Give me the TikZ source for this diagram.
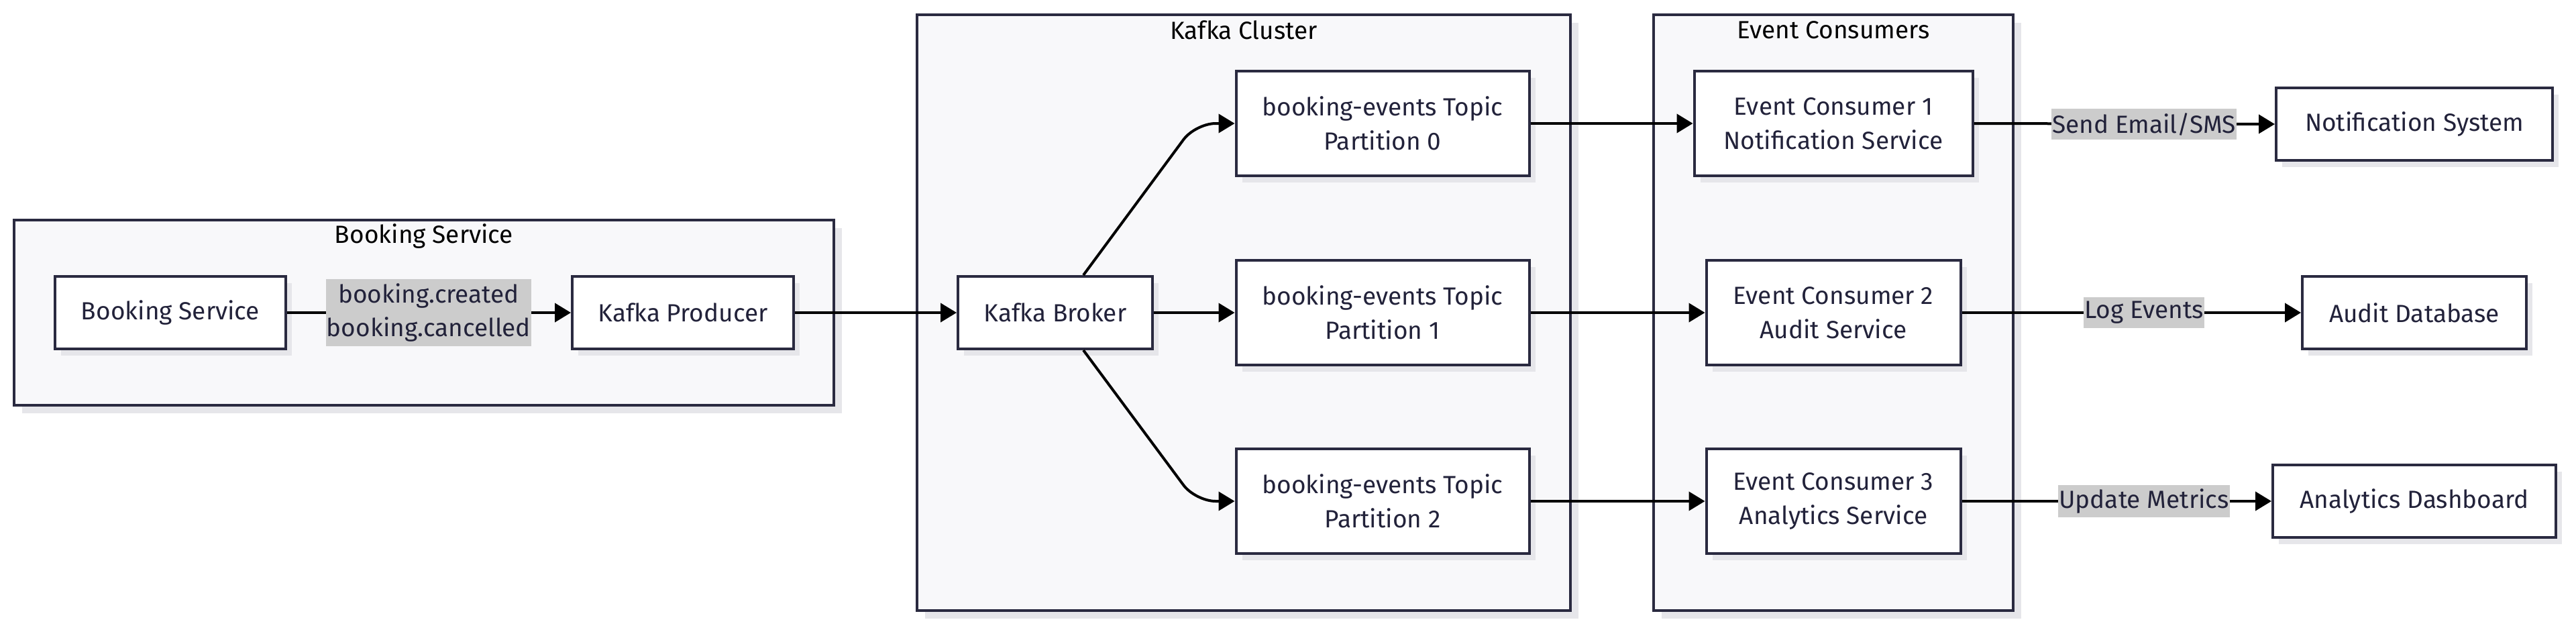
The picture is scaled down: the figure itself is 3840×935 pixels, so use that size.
\documentclass[tikz,border=0pt]{standalone}
\usepackage{fontspec}
\setmainfont{Fira Sans}
\usetikzlibrary{arrows.meta,shadows}
\definecolor{bord}{HTML}{2A2A40}
\definecolor{txt}{HTML}{22223A}
\definecolor{clfill}{HTML}{F8F8FA}
\definecolor{shd}{HTML}{E6E6EA}
\definecolor{lblgray}{HTML}{CCCCCC}
\newcommand{\nfont}{\fontsize{37}{51}\selectfont}
\tikzset{
  box/.style={draw=bord, line width=4pt, fill=white, rectangle, minimum height=108pt,
    align=center, inner sep=0pt, font=\nfont, text=txt,
    drop shadow={shadow xshift=9pt, shadow yshift=-10pt, fill=shd, opacity=1}},
  tallbox/.style={box, minimum height=156pt},
  cluster/.style={draw=bord, line width=4pt, fill=clfill,
    drop shadow={shadow xshift=12pt, shadow yshift=-12pt, fill=shd, opacity=1}},
  ctitle/.style={font=\nfont, text=black, inner sep=0pt},
  lbl/.style={fill=lblgray, font=\nfont, text=txt, align=center, inner xsep=1pt, inner ysep=6pt},
  arr/.style={draw=black, line width=4pt, -{Triangle[length=24pt,width=28pt]}}
}
\begin{document}
\begin{tikzpicture}[x=1pt,y=-1pt]
\useasboundingbox (0,0) rectangle (3840,935);
% clusters
\draw[cluster] (21,328) rectangle (1243,604);
\node[ctitle] (tbs) at (632,352) {Booking Service};
\draw[cluster] (1367,22) rectangle (2341,910);
\node[ctitle] (tkc) at (1854,45) {Kafka Cluster};
\draw[cluster] (2465,22) rectangle (3001,910);
\node[ctitle] (tec) at (2733,45) {Event Consumers};
% nodes
\node[box, minimum width=344pt] (bs) at (254,466) {Booking Service};
\node[box, minimum width=330pt] (kp) at (1018,466) {Kafka Producer};
\node[box, minimum width=290pt] (broker) at (1573,466) {Kafka Broker};
\node[tallbox, minimum width=437pt] (p0) at (2061,184) {booking-events Topic\\Partition 0};
\node[tallbox, minimum width=437pt] (p1) at (2061,466) {booking-events Topic\\Partition 1};
\node[tallbox, minimum width=437pt] (p2) at (2061,747) {booking-events Topic\\Partition 2};
\node[tallbox, minimum width=415pt] (ec1) at (2733,184) {Event Consumer 1\\Notification Service};
\node[tallbox, minimum width=379pt] (ec2) at (2733,466) {Event Consumer 2\\Audit Service};
\node[tallbox, minimum width=379pt] (ec3) at (2733,747) {Event Consumer 3\\Analytics Service};
\node[box, minimum width=412pt] (ns) at (3599,185) {Notification System};
\node[box, minimum width=334pt] (ad) at (3599,466) {Audit Database};
\node[box, minimum width=422pt] (and) at (3599,747) {Analytics Dashboard};
% edges
\draw[arr] (bs.east) -- (kp.west);
\draw[arr] (kp.east) -- (broker.west);
\draw[arr] (broker.east) -- (p1.west);
\draw[arr, rounded corners=30pt] ([xshift=42pt]broker.north) -- (1782,184) -- (p0.west);
\draw[arr, rounded corners=30pt] ([xshift=42pt]broker.south) -- (1782,747) -- (p2.west);
\draw[arr] (p0.east) -- (ec1.west);
\draw[arr] (p1.east) -- (ec2.west);
\draw[arr] (p2.east) -- (ec3.west);
\draw[arr] (ec1.east) -- (ns.west);
\draw[arr] (ec2.east) -- (ad.west);
\draw[arr] (ec3.east) -- (and.west);
% edge labels
\node[lbl] (l0) at (639,466) {booking.created\\booking.cancelled};
\node[lbl] (l1) at (3196,185) {Send Email/SMS};
\node[lbl] (l2) at (3196,466) {Log Events};
\node[lbl] (l3) at (3196,747) {Update Metrics};
\end{tikzpicture}
\end{document}
